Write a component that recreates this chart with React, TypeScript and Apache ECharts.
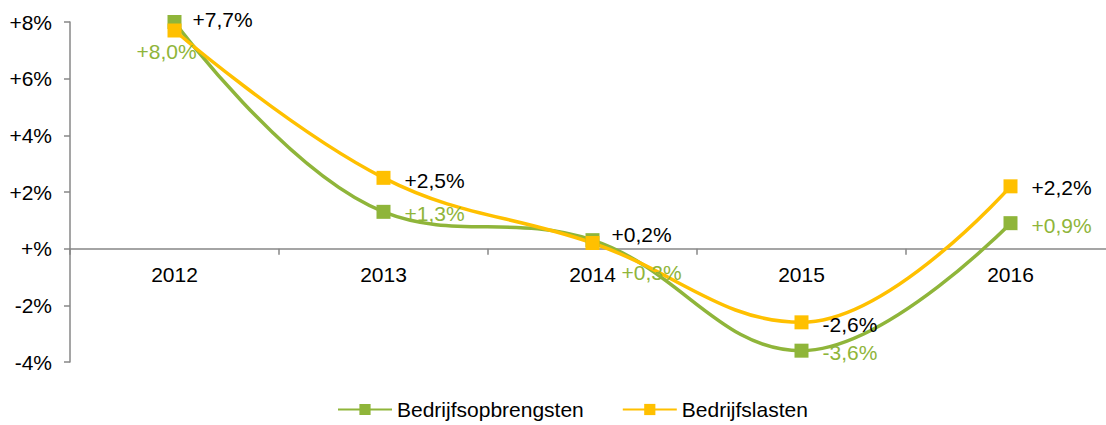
import React, { useEffect, useRef } from "react";
import * as echarts from "echarts";

const categories = ["2012", "2013", "2014", "2015", "2016"];
const opbrengsten = [8.0, 1.3, 0.3, -3.6, 0.9];
const lasten = [7.7, 2.5, 0.2, -2.6, 2.2];
const seriesNames = ["Bedrijfsopbrengsten", "Bedrijfslasten"];

const GREEN = "#8FB53A";
const YELLOW = "#FFC000";
const FONT = "'Liberation Sans', Arial, sans-serif";
const FS = 21;

const fmtVal = (v: number) => (v > 0 ? "+" : "") + v.toFixed(1).replace(".", ",") + "%";
const fmtAxis = (v: number) => (v > 0 ? "+" + v + "%" : v === 0 ? "+%" : v + "%");

export default function App() {
  const ref = useRef<HTMLDivElement>(null);
  useEffect(() => {
    document.body.style.margin = "0";
    document.body.style.overflow = "hidden";
    const chart = echarts.init(ref.current!, null, { renderer: "svg" });
    const greenOffsets = [[-50, 29], [9, 2], [17, 32], [9, 2], [9, 2]];
    const yellowOffsets = [[6, -11], [9, 3], [7, -9], [9, 2], [9, 1]];
    const mk = (vals: number[], offs: number[][]) =>
      vals.map((v, i) => ({
        value: v,
        label: { offset: offs[i] },
      }));
    const top = 22;
    const plotH = 340;
    const zeroShift = -(plotH * 4) / 12;
    chart.setOption({
      animation: false,
      textStyle: { fontFamily: FONT },
      grid: { left: 70, width: 1045, top, height: plotH, outerBoundsMode: "none", containLabel: false },
      legend: {
        top: 394,
        left: 332,
        itemWidth: 54,
        itemHeight: 14,
        itemGap: 38,
        textStyle: { fontSize: FS, color: "#000", fontFamily: FONT },
        data: seriesNames,
      },
      xAxis: {
        type: "category",
        data: categories,
        boundaryGap: true,
        offset: zeroShift,
        axisLine: { onZero: false, lineStyle: { color: "#878787", width: 1.5 } },
        axisTick: { show: true, length: 6, lineStyle: { color: "#878787", width: 1.5 } },
        axisLabel: { fontSize: FS, color: "#000", margin: 15, fontFamily: FONT },
        splitLine: { show: false },
      },
      yAxis: {
        type: "value",
        min: -4,
        max: 8,
        interval: 2,
        axisLine: { show: true, lineStyle: { color: "#878787", width: 1.5 } },
        axisTick: { show: true, length: 6, lineStyle: { color: "#878787", width: 1.5 } },
        axisLabel: { fontSize: FS, color: "#000", margin: 18, formatter: fmtAxis, fontFamily: FONT },
        splitLine: { show: false },
      },
      series: [
        {
          name: seriesNames[0],
          type: "line",
          smooth: 0.4,
          symbol: "rect",
          symbolSize: 14,
          data: mk(opbrengsten, greenOffsets),
          itemStyle: { color: GREEN },
          lineStyle: { color: GREEN, width: 3.5 },
          label: {
            show: true,
            position: "right",
            distance: 5,
            fontSize: FS,
            color: GREEN,
            fontFamily: FONT,
            formatter: (p: any) => fmtVal(p.value),
          },
        },
        {
          name: seriesNames[1],
          type: "line",
          smooth: 0.4,
          symbol: "rect",
          symbolSize: 14,
          data: mk(lasten, yellowOffsets),
          itemStyle: { color: YELLOW },
          lineStyle: { color: YELLOW, width: 3.5 },
          label: {
            show: true,
            position: "right",
            distance: 5,
            fontSize: FS,
            color: "#000",
            fontFamily: FONT,
            formatter: (p: any) => fmtVal(p.value),
          },
        },
      ],
    });
    return () => chart.dispose();
  }, []);
  return <div ref={ref} style={{ width: 1106, height: 425 }} />;
}
